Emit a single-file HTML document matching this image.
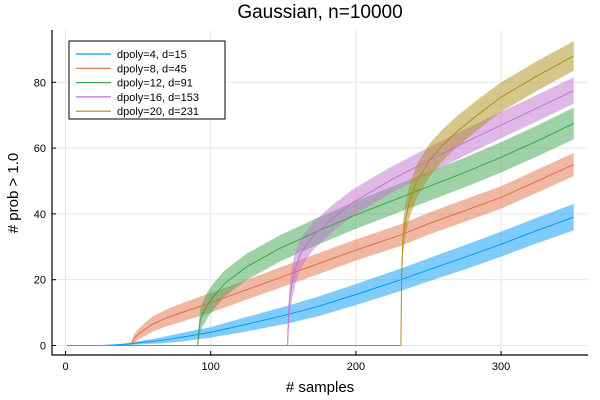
<!DOCTYPE html>
<html><head><meta charset="utf-8"><style>
body{margin:0;background:#fff}
svg{display:block;font-family:"Liberation Sans",sans-serif}
</style></head><body>
<svg id="chart" width="600" height="400">
<text x="320" y="18" text-anchor="middle" font-size="19" fill="#000">Gaussian, n=10000</text>
<g id="grid"></g>
<g id="bands"></g>
<g id="lines"></g>
<g id="axes"></g>
<text x="320" y="392" text-anchor="middle" font-size="15"># samples</text>
<text transform="translate(18,193) rotate(-90)" text-anchor="middle" font-size="15"># prob &gt; 1.0</text>
<g id="legend"></g>
</svg>
<script>
const names=["dpoly=4, d=15","dpoly=8, d=45","dpoly=12, d=91","dpoly=16, d=153","dpoly=20, d=231"];
const colors=["#009AFA","#E26F46","#3EA44E","#C271D2","#AC8E18"];
const xs0=[1,25,40,50,65,80,100,125,153,175,200,231,250,275,300,325,350];
const ys0=[0,0,0.3,0.8,1.5,2.5,4,6.5,9.4,12,15.5,20,23,26.8,30.8,35,39];
const hw0=[0,0,0.3,0.5,0.9,1.3,1.6,2.2,2.7,3,3.2,3.4,3.5,3.7,3.8,3.9,4];
const xs1=[1,45,47,50,55,60,70,80,100,125,150,175,200,231,250,275,300,325,350];
const ys1=[0,0,2,3.3,5,6.5,8.5,10,13,17,21,25,29,33.6,37,41,45,50,55];
const hw1=[0,0,1.2,1.6,2,2.3,2.6,2.8,3,3,3.1,3.2,3.2,3.3,3.3,3.4,3.4,3.5,3.5];
const xs2=[1,91,92,93,95,98,102,110,125,148,175,200,225,250,275,300,325,350];
const ys2=[0,0,5,8,10,12.5,15,19,24,29.6,35,39.7,44,48.3,52.6,57.2,62.2,67.5];
const hw2=[0,0,3,3.5,3.8,4,4,4,4,4,4.1,4.2,4.3,4.4,4.5,4.6,4.7,4.8];
const xs3=[1,153,153.5,154.6,156,158,161,165,171,185,198,225,250,275,300,325,350];
const ys3=[0,0,8,15,19,23,27,30,33.5,39,43.5,50.5,56.2,61.7,67,72.2,77.5];
const hw3=[0,0,4,5,5,4.8,4.6,4.4,4.2,4.1,4,4,4,4,4,4,4];
const xs4=[1,231,231.5,232.5,234,237,242,251,260,269,285,300,325,350];
const ys4=[0,0,22,33,38,44,50,56.5,61,64.8,70.5,75.5,82,88];
const hw4=[0,0,4,5,5,5,5,5,4.8,4.7,4.6,4.5,4.5,4.5];
const series=[[xs0,ys0,hw0],[xs1,ys1,hw1],[xs2,ys2,hw2],[xs3,ys3,hw3],[xs4,ys4,hw4]];
const xTicks=[0,100,200,300];
const yTicks=[0,20,40,60,80];
const X=v=>65.5+v*1.452;
const Y=v=>345.5-v*3.29;
const NS="http://www.w3.org/2000/svg";
function mk(tag,attrs,parent){const e=document.createElementNS(NS,tag);for(const k in attrs)e.setAttribute(k,attrs[k]);parent.appendChild(e);return e;}
const grid=document.getElementById('grid'),axes=document.getElementById('axes');
const L=52,R=588,T=30,B=355;
xTicks.forEach(t=>{
 const g=mk('line',{x1:X(t),x2:X(t),y1:T,y2:B,stroke:'#e6e6e6','stroke-width':1},grid);
 
 
 const tk=mk('line',{x1:X(t),x2:X(t),y1:B,y2:B-4,stroke:'#000'},axes);
 
 
 const tx=mk('text',{x:X(t),y:B+15,'text-anchor':'middle','font-size':11},axes);tx.textContent=t;
 
 
});
yTicks.forEach(t=>{
 const g=mk('line',{x1:L,x2:R,y1:Y(t),y2:Y(t),stroke:'#e6e6e6','stroke-width':1},grid);
 
 
 const tk=mk('line',{x1:L,x2:L+4,y1:Y(t),y2:Y(t),stroke:'#000'},axes);
 
 
 const tx=mk('text',{x:L-6,y:Y(t)+4,'text-anchor':'end','font-size':11},axes);tx.textContent=t;
 
 
});
const ax=mk('path',{d:`M${L},${T} V${B} H${R}`,stroke:'#000',fill:'none','stroke-width':1.2},axes);


const bands=document.getElementById('bands'),lines=document.getElementById('lines');
series.forEach(([xs,ys,hw],i)=>{
 let up=xs.map((x,j)=>`${X(x)},${Y(ys[j]+hw[j])}`);
 let dn=xs.map((x,j)=>`${X(x)},${Y(Math.max(0,ys[j]-hw[j]))}`).reverse();
 const b=mk('polygon',{points:up.concat(dn).join(' '),fill:colors[i],'fill-opacity':0.5},bands);
 
 
 const l=mk('polyline',{points:xs.map((x,j)=>`${X(x)},${Y(ys[j])}`).join(' '),fill:'none',stroke:colors[i],'stroke-width':1},lines);
 
 
});
const lg=document.getElementById('legend');
const box=mk('rect',{x:69,y:41,width:156,height:78,fill:'#fff',stroke:'#000','stroke-width':1},lg);


names.forEach((n,i)=>{
 const y=54+i*14.3;
 const l=mk('line',{x1:76,x2:111,y1:y,y2:y,stroke:colors[i],'stroke-width':1.2},lg);
 
 
 const t=mk('text',{x:117,y:y+4,'font-size':11},lg);t.textContent=n;
 
 
});
</script>
</body></html>
